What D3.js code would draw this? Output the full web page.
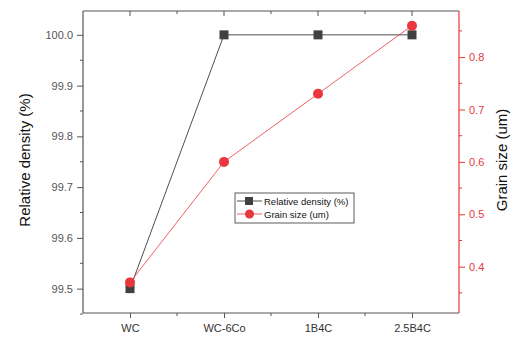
<!DOCTYPE html>
<html><head><meta charset="utf-8">
<script src="https://cdn.jsdelivr.net/npm/d3@7/dist/d3.min.js"></script>
<style>body{margin:0;background:#fff}svg{display:block;font-family:Arial,"Liberation Sans",sans-serif}</style>
</head><body><svg id="c" width="519" height="344"></svg>
<script>
const categories = ["WC", "WC-6Co", "1B4C", "2.5B4C"];
const densityValues = [99.5, 100.0, 100.0, 100.0];
const grainValues = [0.37, 0.60, 0.73, 0.86];
const densityTicks = [99.5, 99.6, 99.7, 99.8, 99.9, 100.0];
const grainTicks = [0.4, 0.5, 0.6, 0.7, 0.8];

const svg = d3.select("#c");
const L = 83, R = 459, T = 11, B = 313;
const red = "#e8383d", dark = "#404040", axisGray = "#555";

const x = d3.scalePoint().domain(categories).range([L, R]).padding(0.5);
const yL = d3.scaleLinear().domain([99.452, 100.047]).range([B, T]);
const yR = d3.scaleLinear().domain([0.3116, 0.888]).range([B, T]);

// frame lines
const g = svg.append("g");
g.append("line").attr("x1", L).attr("x2", R).attr("y1", T).attr("y2", T).attr("stroke", axisGray).attr("stroke-width", 1.2);
g.append("line").attr("x1", L).attr("x2", R).attr("y1", B).attr("y2", B).attr("stroke", axisGray).attr("stroke-width", 1.2);
g.append("line").attr("x1", L).attr("x2", L).attr("y1", T).attr("y2", B).attr("stroke", axisGray).attr("stroke-width", 1.2);
g.append("line").attr("x1", R).attr("x2", R).attr("y1", T).attr("y2", B).attr("stroke", red).attr("stroke-width", 1.2);

// x axis bottom
const step = x.step();
const minorX = categories.slice(0, -1).map(c => x(c) + step / 2);
const xAxis = d3.axisBottom(x).tickSize(5).tickPadding(6);
const gx = svg.append("g").attr("transform", `translate(0,${B})`).call(xAxis);
gx.select(".domain").remove();
gx.selectAll("line").attr("stroke", axisGray);
gx.selectAll("text").attr("font-size", 11).attr("fill", "#333");
svg.append("g").selectAll("line").data(minorX).join("line")
  .attr("x1", d => d).attr("x2", d => d).attr("y1", B).attr("y2", B + 3).attr("stroke", axisGray);
// top ticks (inward)
svg.append("g").selectAll("line").data(categories).join("line")
  .attr("x1", d => x(d)).attr("x2", d => x(d)).attr("y1", T).attr("y2", T + 5).attr("stroke", axisGray);
svg.append("g").selectAll("line").data(minorX).join("line")
  .attr("x1", d => d).attr("x2", d => d).attr("y1", T).attr("y2", T + 3).attr("stroke", axisGray);

// left axis
const gl = svg.append("g").attr("transform", `translate(${L},0)`)
  .call(d3.axisLeft(yL).tickValues(densityTicks).tickFormat(d3.format(".1f")).tickSize(6).tickPadding(4));
gl.select(".domain").remove();
gl.selectAll("line").attr("stroke", axisGray);
gl.selectAll("text").attr("font-size", 11).attr("fill", "#555");
const minorL = d3.range(99.45, 100.05, 0.1).map(v => +v.toFixed(2));
svg.append("g").selectAll("line").data(minorL).join("line")
  .attr("x1", L - 3).attr("x2", L).attr("y1", d => yL(d)).attr("y2", d => yL(d)).attr("stroke", axisGray);

// right axis
const gr = svg.append("g").attr("transform", `translate(${R},0)`)
  .call(d3.axisRight(yR).tickValues(grainTicks).tickFormat(d3.format(".1f")).tickSize(6).tickPadding(4));
gr.select(".domain").remove();
gr.selectAll("line").attr("stroke", red);
gr.selectAll("text").attr("font-size", 11).attr("fill", red);
const minorR = [0.35, 0.45, 0.55, 0.65, 0.75, 0.85];
svg.append("g").selectAll("line").data(minorR).join("line")
  .attr("x1", R).attr("x2", R + 3).attr("y1", d => yR(d)).attr("y2", d => yR(d)).attr("stroke", red);

// axis titles
svg.append("text").attr("transform", "translate(30,160) rotate(-90)").attr("text-anchor", "middle")
  .attr("font-size", 15).attr("fill", "#111").text("Relative density (%)");
svg.append("text").attr("transform", "translate(507,160) rotate(-90)").attr("text-anchor", "middle")
  .attr("font-size", 15).attr("fill", "#111").text("Grain size (um)");

// lines
const dens = categories.map((c, i) => [x(c), yL(densityValues[i])]);
const grain = categories.map((c, i) => [x(c), yR(grainValues[i])]);
svg.append("path").attr("d", d3.line()(dens)).attr("fill", "none").attr("stroke", "#222").attr("stroke-width", 0.8);
svg.append("path").attr("d", d3.line()(grain)).attr("fill", "none").attr("stroke", red).attr("stroke-width", 0.8);
svg.append("g").selectAll("rect").data(dens).join("rect")
  .attr("x", d => d[0] - 4.5).attr("y", d => d[1] - 4.5).attr("width", 9).attr("height", 9).attr("fill", dark);
svg.append("g").selectAll("circle").data(grain).join("circle")
  .attr("cx", d => d[0]).attr("cy", d => d[1]).attr("r", 5).attr("fill", red);

// legend
const lg = svg.append("g");
lg.append("rect").attr("x", 235).attr("y", 193).attr("width", 119).attr("height", 30)
  .attr("fill", "#fff").attr("stroke", "#333").attr("stroke-width", 0.8);
lg.append("line").attr("x1", 237).attr("x2", 262).attr("y1", 201).attr("y2", 201).attr("stroke", "#222").attr("stroke-width", 0.8);
lg.append("rect").attr("x", 245).attr("y", 197).attr("width", 8).attr("height", 8).attr("fill", dark);
lg.append("text").attr("x", 264).attr("y", 204.5).attr("font-size", 9.5).attr("fill", "#111").text("Relative density (%)");
lg.append("line").attr("x1", 237).attr("x2", 262).attr("y1", 214).attr("y2", 214).attr("stroke", red).attr("stroke-width", 0.8);
lg.append("circle").attr("cx", 249.5).attr("cy", 214).attr("r", 4.5).attr("fill", red);
lg.append("text").attr("x", 264).attr("y", 217.5).attr("font-size", 9.5).attr("fill", "#111").text("Grain size (um)");
</script></body></html>
